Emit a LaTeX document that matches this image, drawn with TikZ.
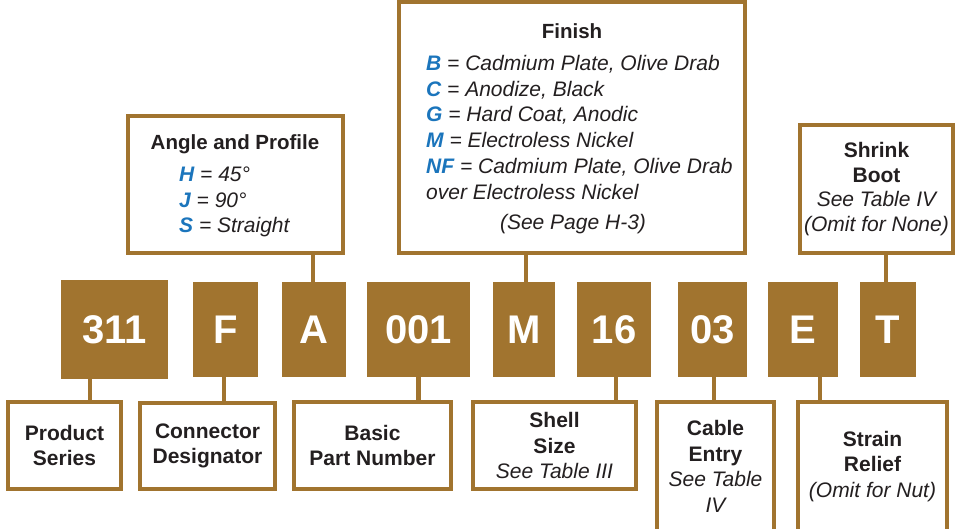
\documentclass[tikz,border=0pt]{standalone}
\usepackage{fontspec}
\setmainfont{Liberation Sans}
\definecolor{brn}{HTML}{A1742F}
\definecolor{blu}{HTML}{1B75BC}
\definecolor{ink}{HTML}{231F20}
\begin{document}
\begin{tikzpicture}[x=1pt,y=-1pt,
  code/.style={fill=brn, draw=none, text=white, font=\fontsize{40}{40}\selectfont\bfseries, inner sep=0pt, minimum height=95pt},
  lab/.style={draw=brn, line width=4pt, fill=white, align=center, text=ink, inner sep=0pt, font=\fontsize{21}{25.5}\selectfont\bfseries},
  conn/.style={draw=brn, line width=4.5pt},
  ttl/.style={anchor=base, text=ink, inner sep=0pt, font=\fontsize{20.5}{24}\selectfont\bfseries},
  itl/.style={anchor=base west, text=ink, inner sep=0pt, font=\fontsize{21}{24}\selectfont\itshape},
  itc/.style={anchor=base, text=ink, inner sep=0pt, font=\fontsize{21}{24}\selectfont\itshape}
]
\newcommand{\ky}[1]{\textcolor{blu}{\bfseries #1}}
\useasboundingbox (0,0) rectangle (956,529);

% code boxes
\node[code, minimum width=107pt, minimum height=99pt] (c311) at (114.5,329.5) {311};
\node[code, minimum width=65pt] (cF) at (225.5,329.5) {F};
\node[code, minimum width=64pt] (cA) at (314,329.5) {A};
\node[code, minimum width=103pt] (c001) at (418.5,329.5) {001};
\node[code, minimum width=62pt] (cM) at (524,329.5) {M};
\node[code, minimum width=74pt] (c16) at (614,329.5) {16};
\node[code, minimum width=69pt] (c03) at (712.5,329.5) {03};
\node[code, minimum width=70pt] (cE) at (803,329.5) {E};
\node[code, minimum width=56pt] (cT) at (888,329.5) {T};

% bottom label boxes
\node[lab, minimum width=113pt, minimum height=87pt] (ps) at (64.5,445.5) {Product\\Series};
\node[lab, minimum width=135pt, minimum height=86pt] (cd) at (207.5,446) {Connector\\Designator};
\node[lab, minimum width=157pt, minimum height=87pt] (bpn) at (372.5,445.5) {Basic\\Part Number};
\node[lab, minimum width=163pt, minimum height=87pt] (ss) at (554.5,445.5) {Shell\\Size\\{\mdseries\itshape See Table III}};
\node[lab, minimum width=117pt, minimum height=129pt] (ce) at (715.5,466.5) {Cable\\Entry\\{\mdseries\itshape See Table}\\{\mdseries\itshape IV}};
\node[lab, minimum width=149pt, minimum height=129pt] (sr) at (872.5,466.5) {Strain\\Relief\\{\mdseries\itshape (Omit for Nut)}};

% top boxes
\node[lab, minimum width=215pt, minimum height=137pt] (ap) at (235.5,184.5) {};
\node[lab, minimum width=346pt, minimum height=251pt] (fin) at (572,127.5) {};
\node[lab, minimum width=153pt, minimum height=128pt, font=\fontsize{21}{24.5}\selectfont\bfseries] (sb) at (876.5,189) {Shrink\\Boot\\{\mdseries\itshape See Table IV}\\{\mdseries\itshape (Omit for None)}};

% angle and profile text
\node[ttl] (apt) at (235,150) {Angle and Profile};
\node[itl] (aph) at (179,182) {\ky{H} = 45°};
\node[itl] (apj) at (179,208) {\ky{J} = 90°};
\node[itl] (aps) at (179,233) {\ky{S} = Straight};

% finish text
\node[ttl] (fint) at (572,39) {Finish};
\node[itl] (finb) at (426,70.7) {\ky{B} = Cadmium Plate, Olive Drab};
\node[itl] (finc) at (426,96.7) {\ky{C} = Anodize, Black};
\node[itl] (fing) at (426,122) {\ky{G} = Hard Coat, Anodic};
\node[itl] (finm) at (426,148) {\ky{M} = Electroless Nickel};
\node[itl] (finn) at (426,174) {\ky{NF} = Cadmium Plate, Olive Drab};
\node[itl] (fino) at (426,200) {over Electroless Nickel};
\node[itc] (finp) at (573,230) {(See Page H-3)};

% connectors
\draw[conn] ([xshift=-24.5pt]c311.south) -- ([xshift=-24.5pt]c311.south |- ps.north);
\draw[conn] ([xshift=-1.5pt]cF.south) -- ([xshift=-1.5pt]cF.south |- cd.north);
\draw[conn] ([xshift=-1pt]cA.north) -- ([xshift=-1pt]cA.north |- ap.south);
\draw[conn] (c001.south) -- (c001.south |- bpn.north);
\draw[conn] ([xshift=2pt]cM.north) -- ([xshift=2pt]cM.north |- fin.south);
\draw[conn] ([xshift=2pt]c16.south) -- ([xshift=2pt]c16.south |- ss.north);
\draw[conn] ([xshift=1.5pt]c03.south) -- ([xshift=1.5pt]c03.south |- ce.north);
\draw[conn] ([xshift=17pt]cE.south) -- ([xshift=17pt]cE.south |- sr.north);
\draw[conn] ([xshift=-2pt]cT.north) -- ([xshift=-2pt]cT.north |- sb.south);
\end{tikzpicture}
\end{document}
